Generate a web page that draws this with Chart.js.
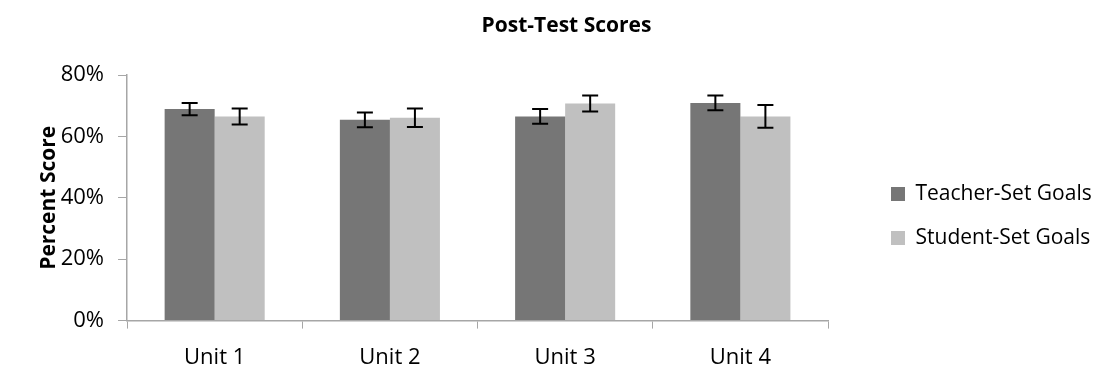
<!DOCTYPE html>
<html>
<head>
<meta charset="utf-8">
<script src="https://cdn.jsdelivr.net/npm/chart.js@4.4.0/dist/chart.umd.min.js"></script>
<style>
  html, body { margin: 0; padding: 0; background: #fff; }
  #wrap { width: 1097px; height: 387px; }
</style>
</head>
<body>
<div id="wrap"><canvas id="scoreChart"></canvas></div>
<script>
// Datos
const UNITS = ["Unit 1", "Unit 2", "Unit 3", "Unit 4"];
const TEACHER_SCORES = [68.9, 65.4, 66.5, 70.9];
const STUDENT_SCORES = [66.5, 66.1, 70.7, 66.5];
const TEACHER_ERR = [2.0, 2.4, 2.4, 2.4];
const STUDENT_ERR = [2.6, 3.0, 2.6, 3.7];
const Y_TICKS = [0, 20, 40, 60, 80];

const FONT = "'Open Sans', 'Noto Sans', sans-serif";
const AXIS_GRAY = "#a6a6a6";

// Barras de error dibujadas con las escalas de Chart.js
const errorBars = {
  id: "errorBars",
  afterDatasetsDraw(chart) {
    const ctx = chart.ctx;
    const yScale = chart.scales.y;
    const errs = [TEACHER_ERR, STUDENT_ERR];
    ctx.save();
    ctx.strokeStyle = "#000";
    ctx.lineWidth = 2;
    chart.data.datasets.forEach((ds, i) => {
      const meta = chart.getDatasetMeta(i);
      meta.data.forEach((bar, j) => {
        const v = ds.data[j];
        const e = errs[i][j];
        const top = yScale.getPixelForValue(v + e);
        const bot = yScale.getPixelForValue(v - e);
        const cap = 8;
        ctx.beginPath();
        ctx.moveTo(bar.x, top);
        ctx.lineTo(bar.x, bot);
        ctx.moveTo(bar.x - cap, top);
        ctx.lineTo(bar.x + cap, top);
        ctx.moveTo(bar.x - cap, bot);
        ctx.lineTo(bar.x + cap, bot);
        ctx.stroke();
      });
    });
    ctx.restore();
  },
};

// Ancho fijo de la leyenda y un pequeño desplazamiento
const legendBox = {
  id: "legendBox",
  afterInit(chart) {
    const lg = chart.legend;
    if (!lg) return;
    const origFit = lg.fit;
    lg.fit = function () {
      origFit.call(this);
      this.width = 269;
    };
  },
  afterLayout(chart) {
    const lg = chart.legend;
    if (!lg) return;
    lg.left += 40;
    lg.right += 40;
    lg.top += 16;
    lg.bottom += 16;
  },
};

new Chart(document.getElementById("scoreChart"), {
  type: "bar",
  data: {
    labels: UNITS,
    datasets: [
      {
        label: "Teacher-Set Goals",
        data: TEACHER_SCORES,
        backgroundColor: "#767676",
        categoryPercentage: 0.571,
        barPercentage: 1.0,
      },
      {
        label: "Student-Set Goals",
        data: STUDENT_SCORES,
        backgroundColor: "#c0c0c0",
        categoryPercentage: 0.571,
        barPercentage: 1.0,
      },
    ],
  },
  options: {
    responsive: true,
    maintainAspectRatio: false,
    animation: false,
    layout: { padding: { left: 36, right: 0, top: 13, bottom: 0 } },
    plugins: {
      title: {
        display: true,
        text: "Post-Test Scores",
        color: "#000",
        font: { family: FONT, size: 21, weight: "bold" },
        padding: { top: 0, bottom: 36.8 },
      },
      legend: {
        position: "right",
        align: "center",
        labels: {
          color: "#000",
          font: { family: FONT, size: 21 },
          boxWidth: 14,
          boxHeight: 14,
          padding: 23,
        },
      },
      tooltip: { enabled: false },
    },
    scales: {
      x: {
        grid: {
          drawOnChartArea: false,
          offset: true,
          tickLength: 8,
          color: AXIS_GRAY,
        },
        border: { color: AXIS_GRAY, width: 1.5 },
        ticks: {
          color: "#000",
          font: { family: FONT, size: 22 },
          padding: 16,
        },
      },
      y: {
        min: 0,
        max: 80,
        afterBuildTicks(scale) {
          scale.ticks = Y_TICKS.map((v) => ({ value: v }));
        },
        grid: {
          drawOnChartArea: false,
          tickLength: 9,
          color: AXIS_GRAY,
        },
        border: { color: AXIS_GRAY, width: 1.5 },
        ticks: {
          color: "#000",
          font: { family: FONT, size: 22 },
          padding: 14,
          callback: (v) => v + "%",
        },
        title: {
          display: true,
          text: "Percent Score",
          color: "#000",
          font: { family: FONT, size: 21, weight: "bold" },
          padding: { top: 0, bottom: -14.5 },
        },
      },
    },
  },
  plugins: [errorBars, legendBox],
});
</script>
</body>
</html>
